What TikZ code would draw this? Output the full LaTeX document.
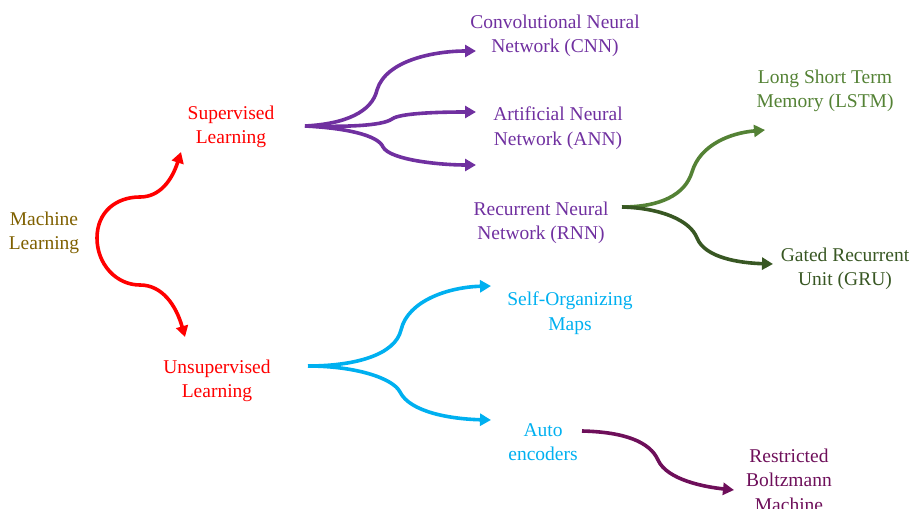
\documentclass[tikz,border=0pt]{standalone}
\usepackage{fontspec}
\setmainfont{Liberation Serif}
\usetikzlibrary{arrows.meta}
\definecolor{mlcol}{HTML}{7F6000}
\definecolor{supcol}{HTML}{FF0000}
\definecolor{purp}{HTML}{7030A0}
\definecolor{greenA}{HTML}{548235}
\definecolor{greenB}{HTML}{385723}
\definecolor{cyanc}{HTML}{00B0F0}
\definecolor{maroon}{HTML}{6E0F5A}
\tikzset{
  lbl/.style={align=center, inner sep=0pt, font=\fontsize{19.5}{24.5}\selectfont},
  flow/.style={line width=3.6pt, -{Triangle[length=11pt,width=12pt]}},
}
\begin{document}
\begin{tikzpicture}[x=1pt,y=-1pt]
\useasboundingbox (0,0) rectangle (917,508);
% labels
\node[lbl, text=mlcol] (ml) at (44,233) {Machine\\Learning};
\node[lbl, text=supcol] (sup) at (231,127) {Supervised\\Learning};
\node[lbl, text=supcol] (uns) at (217,381) {Unsupervised\\Learning};
\node[lbl, text=purp] (cnn) at (555,36) {Convolutional Neural\\Network (CNN)};
\node[lbl, text=purp] (ann) at (558,128) {Artificial Neural\\Network (ANN)};
\node[lbl, text=purp] (rnn) at (541,223) {Recurrent Neural\\Network (RNN)};
\node[lbl, text=greenA] (lstm) at (825,91) {Long Short Term\\Memory (LSTM)};
\node[lbl, text=greenB] (gru) at (845,269) {Gated Recurrent\\Unit (GRU)};
\node[lbl, text=cyanc] (som) at (570,313) {Self-Organizing\\Maps};
\node[lbl, text=cyanc] (ae) at (543,442) {Auto\\encoders};
\node[lbl, text=maroon] (rbm) at (789,480) {Restricted\\Boltzmann\\Machine};
% connector end points
\coordinate (mlo) at (97,238);
\coordinate (supi) at (181,152);
\coordinate (unsi) at (185,337);
\coordinate (supo) at (305,126);
\coordinate (cnni) at (476,51);
\coordinate (anni) at (476,112);
\coordinate (rnni) at (476,165);
\coordinate (rnno) at (622,207);
\coordinate (lstmi) at (765,130);
\coordinate (grui) at (773,264);
\coordinate (unso) at (308,366);
\coordinate (somi) at (491,286);
\coordinate (aei) at (491,420);
\coordinate (aeo) at (582,431);
\coordinate (rbmi) at (734,490);
% red
\draw[flow, draw=supcol] (mlo) .. controls (97,212) and (116,197) .. (140,197)
   .. controls (160,197) and (172,180) .. (supi);
\draw[flow, draw=supcol] (mlo) .. controls (97,264) and (116,285) .. (140,285)
   .. controls (162,285) and (176,305) .. (unsi);
% purple
\draw[flow, draw=purp] (supo) .. controls (345,124) and (372,112) .. (377,90)
   .. controls (386,60) and (435,51) .. (cnni);
\draw[flow, draw=purp] (supo) .. controls (345,127) and (382,126) .. (392,119)
   .. controls (400,113) and (440,112) .. (anni);
\draw[flow, draw=purp] (supo) .. controls (345,128) and (378,135) .. (383,147)
   .. controls (390,160) and (440,165) .. (rnni);
% green
\draw[flow, draw=greenA] (rnno) .. controls (660,207) and (685,195) .. (692,172)
   .. controls (700,145) and (730,133) .. (lstmi);
\draw[flow, draw=greenB] (rnno) .. controls (660,208) and (690,220) .. (697,238)
   .. controls (705,258) and (740,263) .. (grui);
% cyan
\draw[flow, draw=cyanc] (unso) .. controls (355,366) and (395,355) .. (401,330)
   .. controls (408,300) and (450,287) .. (somi);
\draw[flow, draw=cyanc] (unso) .. controls (355,366) and (393,378) .. (400,392)
   .. controls (410,412) and (450,419) .. (aei);
% maroon
\draw[flow, draw=maroon] (aeo) .. controls (625,432) and (650,442) .. (658,460)
   .. controls (667,480) and (705,487) .. (rbmi);
\end{tikzpicture}
\end{document}
